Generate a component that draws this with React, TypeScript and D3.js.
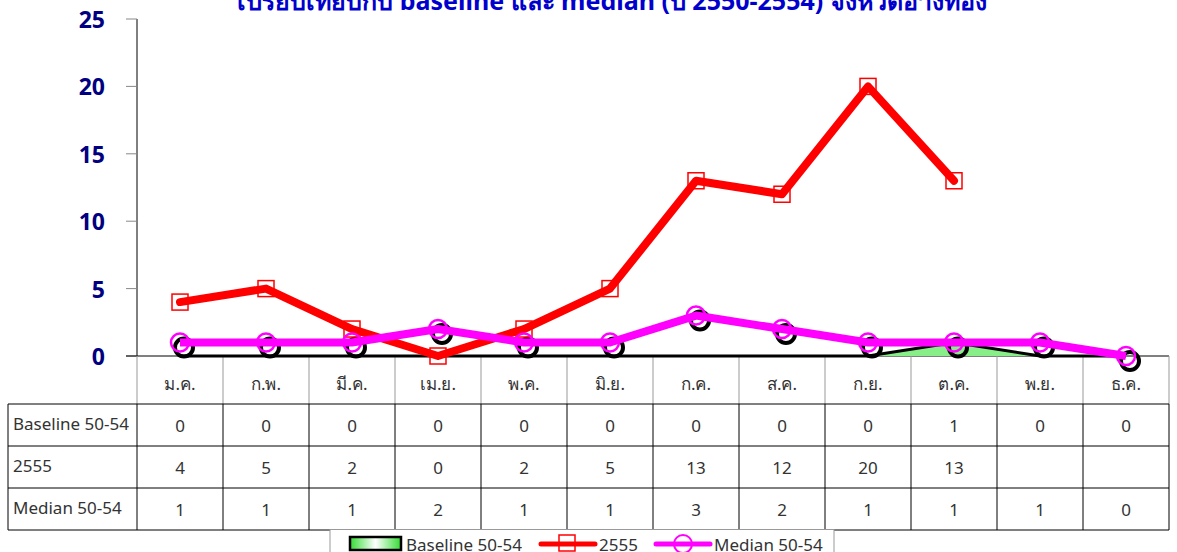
import { useEffect, useRef } from 'react'
import * as d3 from 'd3'

const months = ['ม.ค.', 'ก.พ.', 'มี.ค.', 'เม.ย.', 'พ.ค.', 'มิ.ย.', 'ก.ค.', 'ส.ค.', 'ก.ย.', 'ต.ค.', 'พ.ย.', 'ธ.ค.']
const baseline = [0, 0, 0, 0, 0, 0, 0, 0, 0, 1, 0, 0]
const y2555: (number | null)[] = [4, 5, 2, 0, 2, 5, 13, 12, 20, 13, null, null]
const median = [1, 1, 1, 2, 1, 1, 3, 2, 1, 1, 1, 0]
const yTicks = [0, 5, 10, 15, 20, 25]
const rowNames = ['Baseline 50-54', '2555', 'Median 50-54']
const title = 'เปรียบเทียบกับ baseline และ median (ปี 2550-2554) จังหวัดอ่างทอง'

const W = 1177
const H = 552
const plot = { left: 137, right: 1169, top: 19, bottom: 356 }
const tableLeft = 8
const rowY = [356, 404, 446, 488, 530]
const font = "Tahoma, 'Noto Sans', 'DejaVu Sans', sans-serif"

export default function App() {
  const ref = useRef<SVGSVGElement>(null)

  useEffect(() => {
    const svg = d3.select(ref.current)
    svg.selectAll('*').remove()

    const x = d3.scaleBand<string>().domain(months).range([plot.left, plot.right])
    const cx = (i: number) => (x(months[i]) as number) + x.bandwidth() / 2
    const y = d3.scaleLinear().domain([0, 25]).range([plot.bottom, plot.top])

    const defs = svg.append('defs')
    const grad = defs.append('linearGradient').attr('id', 'lg')
    grad.append('stop').attr('offset', '0%').attr('stop-color', '#33dd33')
    grad.append('stop').attr('offset', '50%').attr('stop-color', '#ffffff')
    grad.append('stop').attr('offset', '100%').attr('stop-color', '#33dd33')

    // title (clipped at top)
    svg.append('text')
      .attr('x', 612).attr('y', 10)
      .attr('text-anchor', 'middle')
      .attr('fill', '#0000cc')
      .style('font', `bold 25px ${font}`)
      .text(title)

    // y axis
    svg.append('line')
      .attr('x1', plot.left).attr('x2', plot.left)
      .attr('y1', plot.top).attr('y2', plot.bottom)
      .attr('stroke', '#000')
    yTicks.forEach((t) => {
      svg.append('line')
        .attr('x1', plot.left - 11).attr('x2', plot.left)
        .attr('y1', y(t)).attr('y2', y(t))
        .attr('stroke', '#888')
      svg.append('text')
        .attr('x', 105).attr('y', y(t) + 9)
        .attr('text-anchor', 'end')
        .attr('fill', '#000080')
        .style('font', `bold 23px ${font}`)
        .text(t)
    })

    // table
    const tbl = svg.append('g')
    tbl.append('line')
      .attr('x1', plot.left - 11).attr('x2', plot.right)
      .attr('y1', plot.bottom).attr('y2', plot.bottom)
      .attr('stroke', '#000')
    months.forEach((m, i) => {
      const x0 = x(m) as number
      tbl.append('line')
        .attr('x1', x0).attr('x2', x0)
        .attr('y1', rowY[0]).attr('y2', rowY[1])
        .attr('stroke', '#999')
      tbl.append('text')
        .attr('x', cx(i)).attr('y', 390)
        .attr('text-anchor', 'middle')
        .attr('fill', '#333')
        .style('font', `17px ${font}`)
        .text(m)
    })
    tbl.append('line')
      .attr('x1', plot.right).attr('x2', plot.right)
      .attr('y1', rowY[0]).attr('y2', rowY[1])
      .attr('stroke', '#999')
    for (let r = 1; r < rowY.length; r++) {
      tbl.append('line')
        .attr('x1', tableLeft).attr('x2', plot.right)
        .attr('y1', rowY[r]).attr('y2', rowY[r])
        .attr('stroke', '#000')
    }
    const vx = [tableLeft, ...months.map((m) => x(m) as number), plot.right]
    vx.forEach((v) => {
      tbl.append('line')
        .attr('x1', v).attr('x2', v)
        .attr('y1', rowY[1]).attr('y2', rowY[4])
        .attr('stroke', '#000')
    })
    const rows = [baseline, y2555, median]
    rows.forEach((vals, r) => {
      const ty = (rowY[r + 1] + rowY[r + 2]) / 2 + 7
      tbl.append('text')
        .attr('x', 13).attr('y', ty - 2)
        .attr('fill', '#333')
        .style('font', `17px ${font}`)
        .text(rowNames[r])
      vals.forEach((v, i) => {
        if (v === null) return
        tbl.append('text')
          .attr('x', cx(i)).attr('y', ty)
          .attr('text-anchor', 'middle')
          .attr('fill', '#333')
          .style('font', `17px ${font}`)
          .text(v)
      })
    })

    // baseline area
    const area = d3.area<number>()
      .x((_, i) => cx(i))
      .y0(y(0))
      .y1((d) => y(d))
    svg.append('path')
      .datum(baseline)
      .attr('d', area)
      .attr('fill', '#88ee88')
    const bline = d3.line<number>().x((_, i) => cx(i)).y((d) => y(d))
    svg.append('path')
      .datum(baseline)
      .attr('d', bline)
      .attr('fill', 'none')
      .attr('stroke', '#000')
      .attr('stroke-width', 3)

    // median marker shadows
    median.forEach((v, i) => {
      svg.append('circle')
        .attr('cx', cx(i) + 4).attr('cy', y(v) + 5)
        .attr('r', 9)
        .attr('fill', 'none')
        .attr('stroke', '#000')
        .attr('stroke-width', 4)
    })

    // 2555 line
    const rline = d3.line<number | null>()
      .defined((d) => d !== null)
      .x((_, i) => cx(i))
      .y((d) => y(d as number))
    svg.append('path')
      .datum(y2555)
      .attr('d', rline)
      .attr('fill', 'none')
      .attr('stroke', '#ff0000')
      .attr('stroke-width', 8)
      .attr('stroke-linejoin', 'round')
      .attr('stroke-linecap', 'round')
    y2555.forEach((v, i) => {
      if (v === null) return
      svg.append('rect')
        .attr('x', cx(i) - 8).attr('y', y(v) - 8)
        .attr('width', 16).attr('height', 16)
        .attr('fill', 'none')
        .attr('stroke', '#ff0000')
        .attr('stroke-width', 1.5)
    })

    // median line
    svg.append('path')
      .datum(median)
      .attr('d', bline)
      .attr('fill', 'none')
      .attr('stroke', '#ff00ff')
      .attr('stroke-width', 8)
      .attr('stroke-linejoin', 'round')
    median.forEach((v, i) => {
      svg.append('circle')
        .attr('cx', cx(i)).attr('cy', y(v))
        .attr('r', 9)
        .attr('fill', 'none')
        .attr('stroke', '#ff00ff')
        .attr('stroke-width', 2.5)
    })

    // legend
    const lg = svg.append('g')
    lg.append('rect')
      .attr('x', 330).attr('y', 529.5).attr('width', 504).attr('height', 40)
      .attr('fill', '#fff').attr('stroke', '#999')
    lg.append('rect')
      .attr('x', 350).attr('y', 537).attr('width', 51).attr('height', 13)
      .attr('fill', 'url(#lg)').attr('stroke', '#000').attr('stroke-width', 2.5)
    lg.append('text').attr('x', 406).attr('y', 551).attr('fill', '#333')
      .style('font', `17px ${font}`).text(rowNames[0])
    lg.append('line').attr('x1', 541).attr('x2', 595).attr('y1', 544).attr('y2', 544)
      .attr('stroke', '#ff0000').attr('stroke-width', 5).attr('stroke-linecap', 'round')
    lg.append('rect').attr('x', 559).attr('y', 535).attr('width', 16).attr('height', 16)
      .attr('fill', 'none').attr('stroke', '#ff0000').attr('stroke-width', 1.5)
    lg.append('text').attr('x', 599).attr('y', 551).attr('fill', '#333')
      .style('font', `17px ${font}`).text(rowNames[1])
    lg.append('line').attr('x1', 656).attr('x2', 710).attr('y1', 544).attr('y2', 544)
      .attr('stroke', '#ff00ff').attr('stroke-width', 5).attr('stroke-linecap', 'round')
    lg.append('circle').attr('cx', 683).attr('cy', 544).attr('r', 9)
      .attr('fill', 'none').attr('stroke', '#ff00ff').attr('stroke-width', 2)
    lg.append('text').attr('x', 714).attr('y', 551).attr('fill', '#333')
      .style('font', `17px ${font}`).text(rowNames[2])
  }, [])

  return (
    <svg
      ref={ref}
      width={W}
      height={H}
      style={{ position: 'absolute', left: 0, top: 0, background: '#fff' }}
    />
  )
}
